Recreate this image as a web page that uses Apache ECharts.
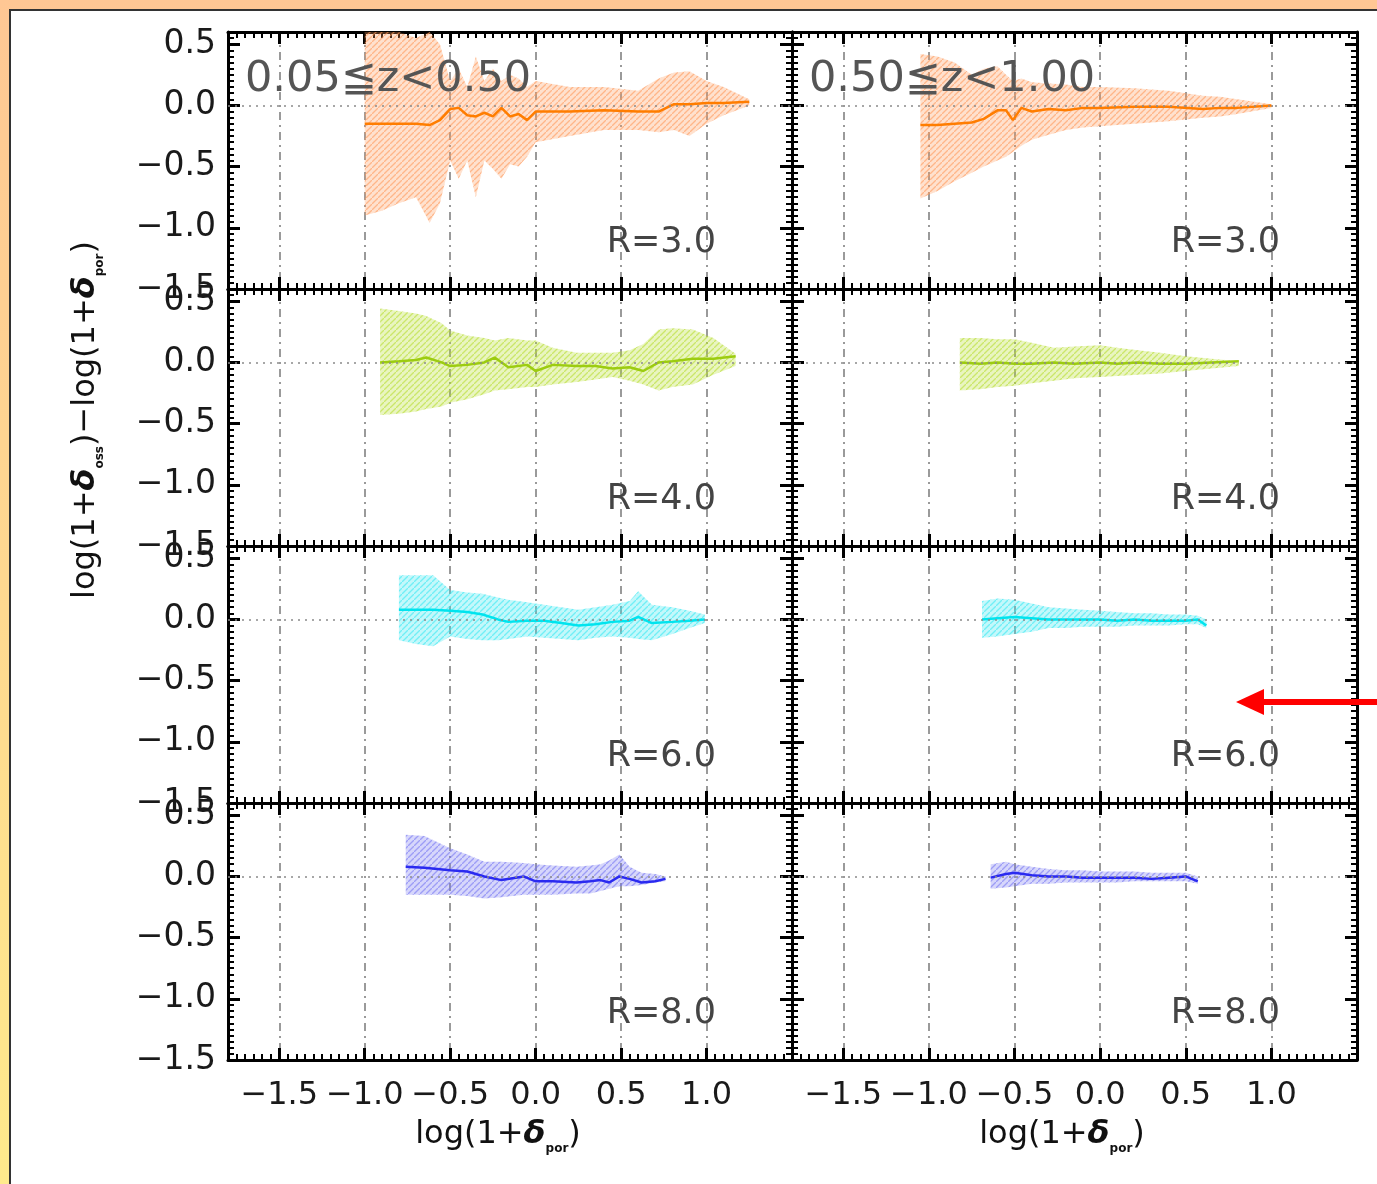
<!DOCTYPE html>
<html>
<head>
<meta charset="utf-8">
<script src="https://cdn.jsdelivr.net/npm/echarts@6/dist/echarts.min.js"></script>
<style>
html, body { margin: 0; padding: 0; }
#chart { width: 1377px; height: 1184px; }
</style>
</head>
<body>
<div id="chart"></div>
<script>
// row 1, R=3.0 (orange)
const xA = [-1.0,-0.9,-0.8,-0.7,-0.62,-0.56,-0.5,-0.45,-0.4,-0.35,-0.3,-0.25,-0.2,-0.15,-0.1,-0.05,0.0,0.2,0.4,0.6,0.72,0.81,0.9,1.0,1.1,1.25];
const meanA = [-0.15,-0.15,-0.15,-0.15,-0.16,-0.12,-0.03,-0.02,-0.08,-0.09,-0.06,-0.09,-0.02,-0.09,-0.07,-0.12,-0.05,-0.05,-0.04,-0.05,-0.05,0.01,0.01,0.02,0.02,0.03];
const loA = [-0.9,-0.86,-0.8,-0.75,-0.96,-0.8,-0.45,-0.6,-0.45,-0.75,-0.45,-0.52,-0.6,-0.48,-0.5,-0.42,-0.3,-0.25,-0.2,-0.2,-0.22,-0.2,-0.25,-0.15,-0.08,0.0];
const hiA = [0.6,0.6,0.6,0.55,0.6,0.5,0.2,0.3,0.15,0.4,0.2,0.3,0.2,0.25,0.22,0.15,0.2,0.15,0.15,0.12,0.22,0.27,0.28,0.2,0.15,0.05];

const xB = [-1.05,-0.95,-0.85,-0.75,-0.68,-0.6,-0.55,-0.51,-0.46,-0.4,-0.3,-0.2,-0.1,0.0,0.2,0.4,0.6,0.7,0.8,1.0];
const meanB = [-0.16,-0.16,-0.15,-0.14,-0.11,-0.04,-0.04,-0.12,-0.02,-0.05,-0.03,-0.04,-0.02,-0.02,-0.01,-0.01,-0.03,-0.02,-0.02,0.0];
const loB = [-0.76,-0.7,-0.62,-0.55,-0.5,-0.45,-0.42,-0.38,-0.33,-0.28,-0.24,-0.2,-0.18,-0.17,-0.15,-0.13,-0.1,-0.09,-0.07,-0.02];
const hiB = [0.42,0.4,0.35,0.25,0.3,0.32,0.25,0.2,0.22,0.19,0.18,0.17,0.15,0.15,0.14,0.12,0.08,0.07,0.05,0.01];

// row 2, R=4.0 (green)
const xC = [-0.91,-0.8,-0.7,-0.64,-0.55,-0.5,-0.4,-0.3,-0.24,-0.16,-0.05,0.0,0.1,0.24,0.35,0.45,0.55,0.63,0.72,0.8,0.92,1.04,1.17];
const meanC = [0.0,0.01,0.02,0.04,0.0,-0.03,-0.02,0.0,0.04,-0.04,-0.02,-0.07,-0.02,-0.03,-0.03,-0.05,-0.04,-0.07,0.0,0.01,0.03,0.03,0.05];
const loC = [-0.43,-0.42,-0.4,-0.38,-0.36,-0.33,-0.3,-0.26,-0.23,-0.22,-0.2,-0.2,-0.18,-0.16,-0.14,-0.12,-0.15,-0.18,-0.23,-0.2,-0.18,-0.1,-0.03];
const hiC = [0.44,0.42,0.4,0.38,0.32,0.26,0.22,0.2,0.18,0.2,0.18,0.18,0.12,0.08,0.08,0.08,0.1,0.15,0.27,0.28,0.27,0.2,0.07];

const xD = [-0.82,-0.7,-0.6,-0.5,-0.4,-0.27,-0.15,0.0,0.1,0.22,0.35,0.5,0.65,0.81];
const meanD = [0.0,-0.01,0.0,-0.01,-0.01,0.0,-0.01,0.0,-0.01,0.0,-0.01,-0.01,0.0,0.01];
const loD = [-0.23,-0.22,-0.2,-0.19,-0.17,-0.15,-0.13,-0.12,-0.11,-0.1,-0.09,-0.07,-0.05,-0.03];
const hiD = [0.2,0.2,0.19,0.19,0.16,0.12,0.13,0.14,0.12,0.1,0.08,0.05,0.03,0.01];

// row 3, R=6.0 (cyan)
const xE = [-0.8,-0.7,-0.6,-0.5,-0.4,-0.31,-0.22,-0.16,-0.05,0.05,0.15,0.25,0.35,0.45,0.55,0.6,0.68,0.8,0.9,0.99];
const meanE = [0.08,0.08,0.08,0.07,0.06,0.04,0.0,-0.02,-0.01,-0.01,-0.03,-0.05,-0.04,-0.02,-0.01,0.02,-0.03,-0.02,-0.01,0.0];
const loE = [-0.17,-0.2,-0.22,-0.14,-0.16,-0.17,-0.17,-0.16,-0.14,-0.15,-0.16,-0.17,-0.15,-0.14,-0.15,-0.16,-0.17,-0.12,-0.07,-0.03];
const hiE = [0.36,0.36,0.36,0.24,0.22,0.21,0.18,0.16,0.14,0.12,0.1,0.08,0.1,0.12,0.15,0.23,0.12,0.1,0.07,0.04];

const xF = [-0.69,-0.6,-0.5,-0.4,-0.3,-0.2,-0.1,0.0,0.1,0.2,0.3,0.4,0.5,0.57,0.62];
const meanF = [0.0,0.01,0.02,0.01,0.0,0.0,0.0,0.0,-0.01,0.0,-0.01,-0.01,-0.01,0.0,-0.05];
const loF = [-0.15,-0.14,-0.12,-0.1,-0.07,-0.07,-0.06,-0.06,-0.06,-0.05,-0.05,-0.05,-0.04,-0.04,-0.07];
const hiF = [0.15,0.17,0.16,0.13,0.1,0.09,0.08,0.07,0.06,0.05,0.05,0.04,0.04,0.03,0.0];

// row 4, R=8.0 (blue)
const xG = [-0.76,-0.65,-0.5,-0.4,-0.3,-0.2,-0.07,0.0,0.1,0.24,0.32,0.38,0.43,0.49,0.55,0.62,0.7,0.76];
const meanG = [0.08,0.07,0.05,0.04,0.0,-0.03,0.0,-0.04,-0.04,-0.05,-0.04,-0.03,-0.05,0.0,-0.02,-0.05,-0.04,-0.02];
const loG = [-0.15,-0.15,-0.15,-0.16,-0.18,-0.17,-0.15,-0.15,-0.15,-0.14,-0.14,-0.12,-0.1,-0.08,-0.08,-0.07,-0.05,-0.04];
const hiG = [0.34,0.33,0.23,0.18,0.12,0.12,0.11,0.1,0.09,0.08,0.09,0.1,0.13,0.18,0.08,0.03,0.02,0.0];

const xH = [-0.64,-0.55,-0.5,-0.4,-0.3,-0.2,-0.1,0.0,0.1,0.2,0.3,0.4,0.5,0.57];
const meanH = [-0.01,0.02,0.03,0.01,0.0,0.0,-0.01,-0.01,-0.01,-0.01,-0.02,-0.01,0.0,-0.04];
const loH = [-0.1,-0.09,-0.08,-0.06,-0.06,-0.05,-0.05,-0.05,-0.05,-0.04,-0.04,-0.04,-0.04,-0.06];
const hiH = [0.1,0.12,0.1,0.08,0.06,0.05,0.05,0.04,0.04,0.04,0.03,0.03,0.03,0.0];

const xTicks = [-1.5, -1.0, -0.5, 0.0, 0.5, 1.0];
const yTicks = [-1.5, -1.0, -0.5, 0.0, 0.5];
const zLabels = ['0.05≦z<0.50', '0.50≦z<1.00'];
const rLabels = ['R=3.0', 'R=4.0', 'R=6.0', 'R=8.0'];
const lineColors = ['#ff7d00', '#9ccc10', '#00e4ee', '#2a2af0'];
const bandColors = ['#ff9a5c', '#b5de30', '#38e8f2', '#7676f2'];

const panels = [
    { x: xA, mean: meanA, lo: loA, hi: hiA, row: 0, col: 0 },
    { x: xB, mean: meanB, lo: loB, hi: hiB, row: 0, col: 1 },
    { x: xC, mean: meanC, lo: loC, hi: hiC, row: 1, col: 0 },
    { x: xD, mean: meanD, lo: loD, hi: hiD, row: 1, col: 1 },
    { x: xE, mean: meanE, lo: loE, hi: hiE, row: 2, col: 0 },
    { x: xF, mean: meanF, lo: loF, hi: hiF, row: 2, col: 1 },
    { x: xG, mean: meanG, lo: loG, hi: hiG, row: 3, col: 0 },
    { x: xH, mean: meanH, lo: loH, hi: hiH, row: 3, col: 1 }
];

const colLeft = [228, 792];
const colWidth = [564, 565];
const rowTop = [32, 289, 546, 803];
const rowHeight = 257;

// small hatch texture for the scatter bands
function hatch(color) {
    const c = document.createElement('canvas');
    c.width = 6; c.height = 6;
    const g = c.getContext('2d');
    g.globalAlpha = 0.3;
    g.fillStyle = color;
    g.fillRect(0, 0, 6, 6);
    g.globalAlpha = 0.6;
    g.strokeStyle = color;
    g.lineWidth = 1.3;
    g.beginPath();
    g.moveTo(-1, 7); g.lineTo(7, -1);
    g.stroke();
    return c;
}

const minus = v => v.toFixed(1).replace('-', '−');
const font = '"DejaVu Sans", "Noto Sans", sans-serif';

var chartDom = document.getElementById('chart');
var myChart = echarts.init(chartDom);

const grids = [], xAxes = [], yAxes = [], series = [];

panels.forEach(function (p, i) {
    grids.push({
        left: colLeft[p.col], top: rowTop[p.row],
        width: colWidth[p.col], height: rowHeight,
        containLabel: false, outerBoundsMode: 'none'
    });
    ['bottom', 'top'].forEach(function (pos) {
        const showLab = pos === 'bottom' && p.row === 3;
        xAxes.push({
            type: 'value', gridIndex: i, position: pos, min: -1.8, max: 1.5, splitNumber: 6,
            axisLine: { show: true, onZero: false, lineStyle: { color: '#000', width: 3 } },
            axisTick: { show: true, inside: true, length: 12, lineStyle: { color: '#000', width: 3 } },
            minorTick: { show: true, splitNumber: 10, length: 6, lineStyle: { color: '#000', width: 2 } },
            axisLabel: showLab ? {
                show: true, customValues: xTicks, margin: 20, formatter: minus,
                color: '#1a1a1a', fontSize: 32, fontFamily: font
            } : { show: false },
            splitLine: pos === 'bottom' ? {
                show: true, lineStyle: { color: '#7a7a7a', width: 1.5, type: [8, 5, 2, 5] }
            } : { show: false }
        });
    });
    ['left', 'right'].forEach(function (pos) {
        const showLab = pos === 'left' && p.col === 0;
        yAxes.push({
            type: 'value', gridIndex: i, position: pos, min: -1.5, max: 0.6, interval: 0.5,
            axisLine: { show: true, onZero: false, lineStyle: { color: '#000', width: 3 } },
            axisTick: { show: true, inside: true, length: 12, lineStyle: { color: '#000', width: 3 } },
            minorTick: { show: true, splitNumber: 10, length: 6, lineStyle: { color: '#000', width: 2 } },
            axisLabel: showLab ? {
                show: true, customValues: yTicks, margin: 12, formatter: minus,
                color: '#1a1a1a', fontSize: 33, fontFamily: font
            } : { show: false },
            splitLine: { show: false }
        });
    });

    const band = hatch(bandColors[p.row]);
    series.push({
        type: 'custom', xAxisIndex: 2 * i, yAxisIndex: 2 * i, clip: true, silent: true,
        data: p.x.map((v, k) => [v, p.lo[k], p.hi[k]]),
        encode: { x: 0, y: [1, 2] },
        renderItem: function (params, api) {
            if (params.dataIndex !== 0) return null;
            const pts = [];
            for (let k = 0; k < p.x.length; k++) pts.push(api.coord([p.x[k], p.hi[k]]));
            for (let k = p.x.length - 1; k >= 0; k--) pts.push(api.coord([p.x[k], p.lo[k]]));
            return {
                type: 'polygon', shape: { points: pts },
                style: { fill: { image: band, repeat: 'repeat' }, stroke: null }
            };
        },
        z: 2
    });
    series.push({
        type: 'line', xAxisIndex: 2 * i, yAxisIndex: 2 * i,
        data: p.x.map((v, k) => [v, p.mean[k]]),
        showSymbol: false, silent: true,
        lineStyle: { color: lineColors[p.row], width: 2.5 },
        markLine: {
            silent: true, symbol: 'none', label: { show: false },
            lineStyle: { color: '#8a8a8a', width: 1.5, type: [2, 5] },
            data: [{ yAxis: 0 }]
        },
        z: 3
    });
});

const graphics = [
    { type: 'rect', z: -10, shape: { x: 10, y: 10, width: 1400, height: 1200 },
      style: { fill: '#fff', stroke: '#333', lineWidth: 2 } }
];
zLabels.forEach(function (t, c) {
    graphics.push({ type: 'text', z: 50, x: colLeft[c] + 17, y: 80,
        style: { text: t, font: '43px ' + font, fill: '#555', verticalAlign: 'middle' } });
});
rLabels.forEach(function (t, r) {
    [0, 1].forEach(function (c) {
        graphics.push({ type: 'text', z: 50, x: colLeft[c] + 488, y: rowTop[r] + 211,
            style: { text: t, font: '35px ' + font, fill: '#444', align: 'right', verticalAlign: 'middle' } });
    });
});
const nameRich = {
    a: { fontSize: 32, fontFamily: font, fill: '#111', lineHeight: 40 },
    d: { fontSize: 32, fontFamily: font, fontWeight: 'bold', fontStyle: 'italic', fill: '#111', lineHeight: 40 },
    s: { fontSize: 12, fontFamily: font, fontWeight: 'bold', fill: '#111', lineHeight: 40, verticalAlign: 'bottom' }
};
[0, 1].forEach(function (c) {
    graphics.push({ type: 'text', z: 50, x: colLeft[c] + 270, y: 1135,
        style: { text: '{a|log(1+}{d|δ}{s|por}{a|)}', rich: nameRich, align: 'center', verticalAlign: 'middle' } });
});
graphics.push({ type: 'text', z: 50, x: 86, y: 420, rotation: Math.PI / 2,
    style: { text: '{a|log(1+}{d|δ}{s|oss}{a|)−log(1+}{d|δ}{s|por}{a|)}', rich: nameRich,
        align: 'center', verticalAlign: 'middle' } });
// red arrow
graphics.push({ type: 'line', z: 60, shape: { x1: 1260, y1: 702, x2: 1390, y2: 702 },
    style: { stroke: '#ff0000', lineWidth: 6 } });
graphics.push({ type: 'polygon', z: 60, shape: { points: [[1236, 702], [1264, 689], [1264, 715]] },
    style: { fill: '#ff0000' } });

var option = {
    backgroundColor: {
        type: 'linear', x: 0, y: 0, x2: 0, y2: 1,
        colorStops: [{ offset: 0, color: '#ffc794' }, { offset: 1, color: '#ffea8c' }]
    },
    animation: false,
    grid: grids,
    xAxis: xAxes,
    yAxis: yAxes,
    graphic: graphics,
    series: series
};

option && myChart.setOption(option);
</script>
</body>
</html>
